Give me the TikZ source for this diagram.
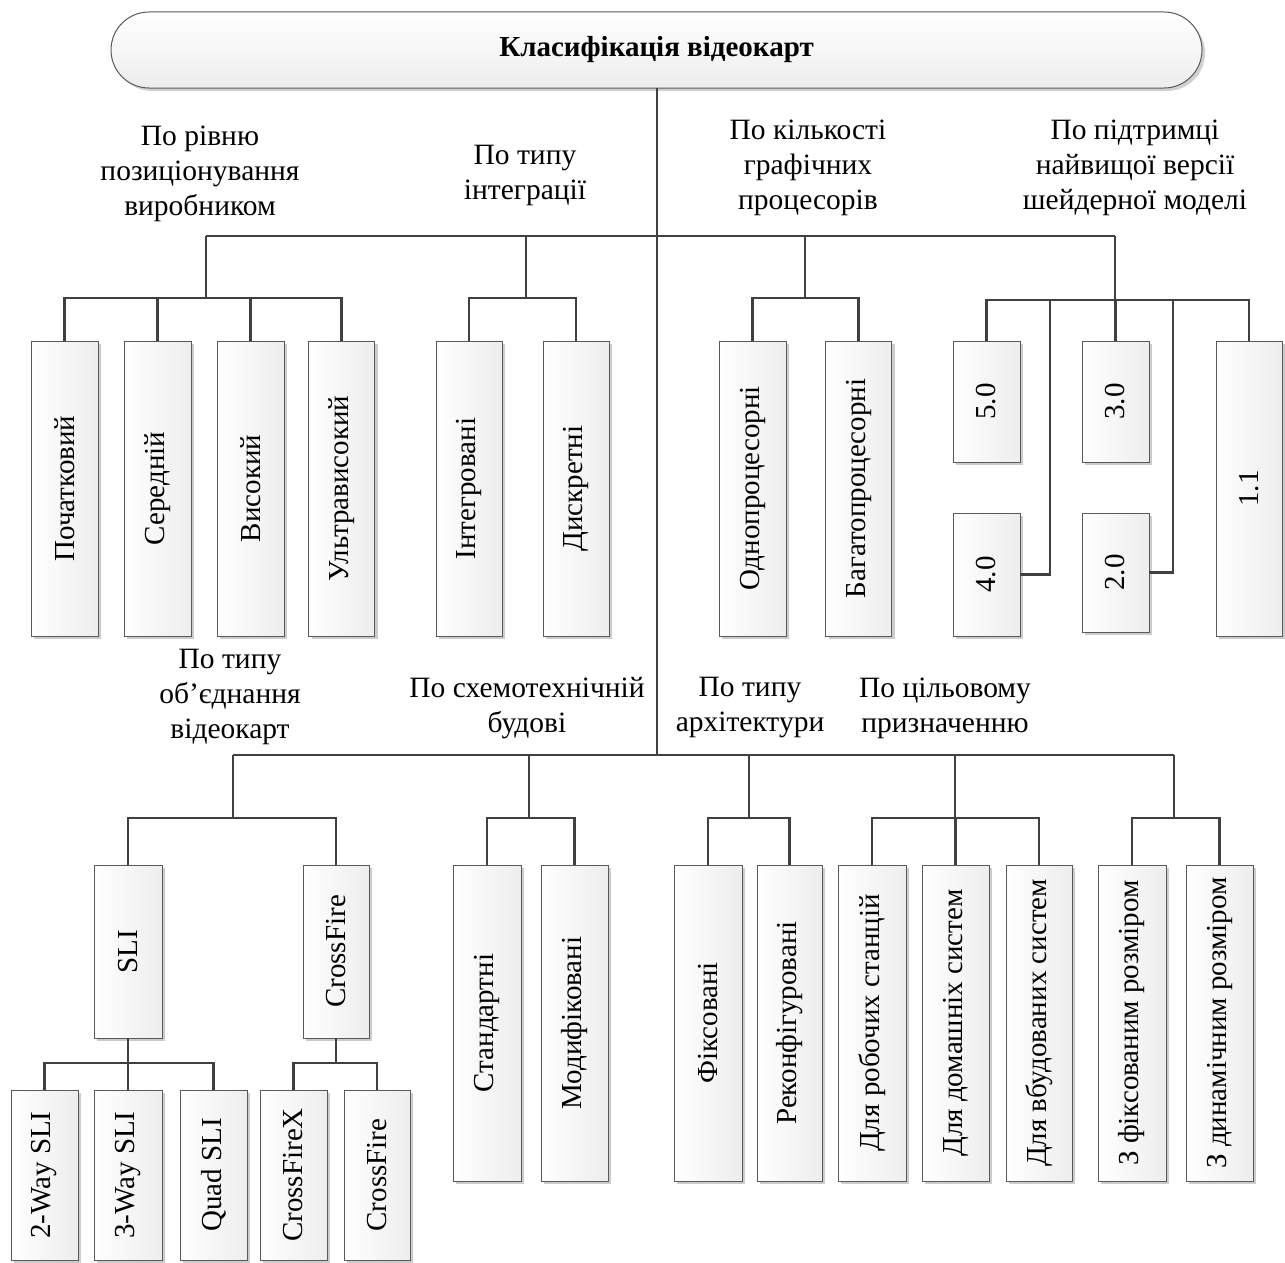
\documentclass[tikz,border=0pt]{standalone}
\usepackage{fontspec}
\setmainfont{Liberation Serif}
\usepackage{graphicx}
\usetikzlibrary{shadows}
\definecolor{linec}{HTML}{404040}
\definecolor{boxc}{HTML}{5A5A5A}
\tikzset{
  vbox/.style={draw=boxc, line width=1pt, left color=white, right color=black!7,
    inner sep=0pt, outer sep=0pt,
    drop shadow={shadow xshift=3pt, shadow yshift=-3pt, fill=black!20, opacity=1},
    font=\fontsize{29}{35}\selectfont},
  titlebox/.style={draw=boxc, line width=1pt, top color=white, bottom color=black!7,
    rounded corners=38pt, inner sep=0pt, outer sep=0pt,
    drop shadow={shadow xshift=3pt, shadow yshift=-3pt, fill=black!18, opacity=1},
    font=\fontsize{29}{35}\selectfont\bfseries},
  lab/.style={align=center, inner sep=0pt, font=\fontsize{29.5}{35}\selectfont},
  conn/.style={draw=linec, line width=2.4pt}
}
\newcommand{\vbx}[5]{\node[vbox, minimum width=#4pt, minimum height=#5pt] (#1) at (#2) {\rotatebox{90}{#3}};}
\begin{document}
\begin{tikzpicture}[x=1pt, y=-1pt]
\useasboundingbox (0,0) rectangle (1285,1263);
\fill[white] (0,0) rectangle (1285,1263);

% title
\node[titlebox, minimum width=1091pt, minimum height=76pt] (title) at (656.5,50) {Класифікація відеокарт};

% labels top
\node[lab] (lA) at (200,174) {По рівню\\позиціонування\\виробником};
\node[lab] (lB) at (525,175) {По типу\\інтеграції};
\node[lab] (lC) at (808,168) {По кількості\\графічних\\процесорів};
\node[lab] (lD) at (1135,168) {По підтримці\\найвищої версії\\шейдерної моделі};
% labels bottom
\node[lab] (lE) at (230,697) {По типу\\об’єднання\\відеокарт};
\node[lab] (lF) at (527,708) {По схемотехнічній\\будові};
\node[lab] (lG) at (750,708) {По типу\\архітектури};
\node[lab] (lH) at (945,708) {По цільовому\\призначенню};

% junction coordinates
\coordinate (mainBot) at (657,755);
\coordinate (topA) at (206,236);
\coordinate (topB) at (526,236);
\coordinate (topC) at (805,236);
\coordinate (topD) at (1115,236);
\coordinate (busA) at (206,298);
\coordinate (busB) at (526,298);
\coordinate (busC) at (805,298);
\coordinate (busD) at (1115,300);
\coordinate (botE) at (233,755);
\coordinate (botF) at (529,755);
\coordinate (botG) at (749,755);
\coordinate (botH) at (955,755);
\coordinate (botI) at (1174,755);
\coordinate (busE) at (233,818);
\coordinate (busF) at (529,818);
\coordinate (busG) at (749,818);
\coordinate (busH) at (955,818);
\coordinate (busI) at (1174,818);

% top row boxes
\vbx{b1}{64.5,488.5}{Початковий}{67}{295}
\vbx{b2}{157.5,488.5}{Середній}{67}{295}
\vbx{b3}{250.5,488.5}{Високий}{67}{295}
\vbx{b4}{341.5,488.5}{Ультрависокий}{66}{295}
\vbx{b5}{469,488.5}{Інтегровані}{66}{295}
\vbx{b6}{576,488.5}{Дискретні}{66}{295}
\vbx{b7}{752.5,488.5}{Однопроцесорні}{67}{295}
\vbx{b8}{858.5,488.5}{Багатопроцесорні}{66}{295}
\vbx{s50}{986.5,401.5}{5.0}{67}{121}
\vbx{s30}{1115.5,401.5}{3.0}{67}{121}
\vbx{s40}{986.5,574.5}{4.0}{67}{123}
\vbx{s20}{1115.5,572.5}{2.0}{67}{119}
\vbx{s11}{1249,488.5}{1.1}{66}{295}

% bottom boxes
\vbx{sli}{128,951.5}{SLI}{68}{173}
\vbx{cf}{336,951.5}{CrossFire}{66}{173}
\vbx{w2}{44.5,1175}{2-Way SLI}{67}{170}
\vbx{w3}{128,1175}{3-Way SLI}{68}{170}
\vbx{wq}{213.5,1175}{Quad SLI}{67}{170}
\vbx{cfx}{293.5,1175}{CrossFireX}{67}{170}
\vbx{cf2}{377,1175}{CrossFire}{66}{170}
\vbx{c1}{487,1023}{Стандартні}{68}{316}
\vbx{c2}{574.5,1023}{Модифіковані}{67}{316}
\vbx{a1}{708,1023}{Фіксовані}{68}{316}
\vbx{a2}{789.5,1023}{Реконфігуровані}{65}{316}
\vbx{p1}{872,1023}{Для робочих станцій}{68}{316}
\vbx{p2}{955.5,1023}{Для домашніх систем}{67}{316}
\vbx{p3}{1039,1023}{Для вбудованих систем}{66}{316}
\vbx{z1}{1132,1023}{З фіксованим розміром}{68}{316}
\vbx{z2}{1219.5,1023}{З динамічним розміром}{67}{316}

% connectors: trunk and buses
\draw[conn] (title.south -| mainBot) -- (mainBot);
\draw[conn] (topA) -- (topD);
\draw[conn] (botE) -- (botI);
\draw[conn] (topA) -- (busA);
\draw[conn] (topB) -- (busB);
\draw[conn] (topC) -- (busC);
\draw[conn] (topD) -- (busD);
\draw[conn] (botE) -- (busE);
\draw[conn] (botF) -- (busF);
\draw[conn] (botG) -- (busG);
\draw[conn] (botH) -- (busH);
\draw[conn] (botI) -- (busI);

% top groups
\draw[conn] (b1.north) |- (busA);
\draw[conn] (b2.north) |- (busA);
\draw[conn] (b3.north) |- (busA);
\draw[conn] (b4.north) |- (busA);
\draw[conn] (b5.north) |- (busB);
\draw[conn] (b6.north) |- (busB);
\draw[conn] (b7.north) |- (busC);
\draw[conn] (b8.north) |- (busC);
\draw[conn] (s50.north) |- (busD);
\draw[conn] (s30.north) |- (busD);
\draw[conn] (s11.north) |- (busD);
\draw[conn] (s40.east) -| (1050,300) -- (busD);
\draw[conn] (s20.east) -| (1173,300) -- (busD);

% bottom groups
\draw[conn] (sli.north) |- (busE);
\draw[conn] (cf.north) |- (busE);
\coordinate (busSLI) at (128,1063);
\coordinate (busCF) at (336,1063);
\draw[conn] (sli.south) -- (busSLI);
\draw[conn] (cf.south) -- (busCF);
\draw[conn] (w2.north) |- (busSLI);
\draw[conn] (w3.north) |- (busSLI);
\draw[conn] (wq.north) |- (busSLI);
\draw[conn] (cfx.north) |- (busCF);
\draw[conn] (cf2.north) |- (busCF);
\draw[conn] (c1.north) |- (busF);
\draw[conn] (c2.north) |- (busF);
\draw[conn] (a1.north) |- (busG);
\draw[conn] (a2.north) |- (busG);
\draw[conn] (p1.north) |- (busH);
\draw[conn] (p2.north) |- (busH);
\draw[conn] (p3.north) |- (busH);
\draw[conn] (z1.north) |- (busI);
\draw[conn] (z2.north) |- (busI);
\end{tikzpicture}
\end{document}
